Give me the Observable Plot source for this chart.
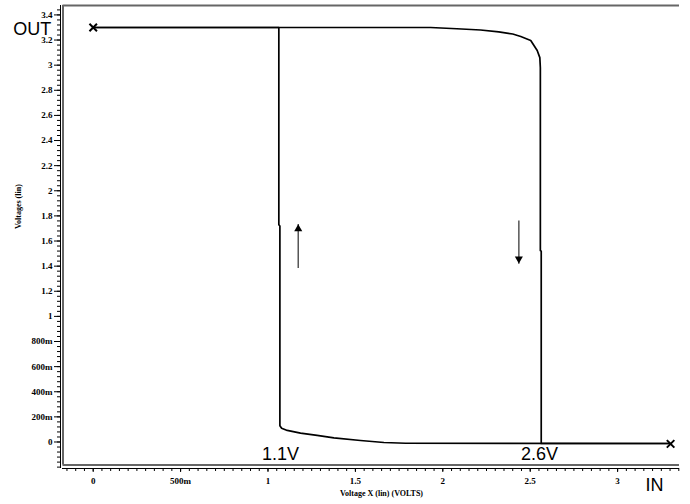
<!DOCTYPE html>
<html><head><meta charset="utf-8">
<script src="https://cdn.jsdelivr.net/npm/d3@7"></script>
<script src="https://cdn.jsdelivr.net/npm/@observablehq/plot@0.6"></script>
<style>body{margin:0;background:#fff;overflow:hidden}</style>
</head><body><div id="chart"></div>
<script>
// Forward sweep (IN 0 -> 3.3 V)
const forwardX = [0, 1.93, 2.08, 2.216, 2.32, 2.40, 2.446, 2.503, 2.54, 2.555, 2.558, 2.558, 2.563, 2.563, 3.30];
const forwardY = [3.30, 3.30, 3.29, 3.28, 3.265, 3.248, 3.228, 3.197, 3.117, 3.06, 2.98, 1.525, 1.52, -0.012, -0.012];
// Backward sweep (IN 3.3 -> 0 V)
const backwardX = [3.30, 1.787, 1.663, 1.529, 1.377, 1.281, 1.186, 1.11, 1.078, 1.068, 1.068, 1.062, 1.062, 0];
const backwardY = [-0.012, -0.010, -0.004, 0.012, 0.033, 0.052, 0.070, 0.092, 0.110, 0.130, 1.72, 1.73, 3.30, 3.30];
// End markers
const markerX = [0, 3.303];
const markerY = [3.30, -0.015];
// Direction arrows
const arrowX = [1.173, 2.435];
const arrowFrom = [1.385, 1.763];
const arrowTo = [1.736, 1.419];
const arrowDir = ["up", "down"];
// Annotations
const labelText = ["OUT", "1.1V", "2.6V", "IN"];
const labelX = [-0.349, 1.072, 2.553, 3.211];
const labelY = [3.29, -0.10, -0.10, -0.342];
// Ticks
const yTicks = [0, 0.2, 0.4, 0.6, 0.8, 1, 1.2, 1.4, 1.6, 1.8, 2, 2.2, 2.4, 2.6, 2.8, 3, 3.2, 3.4];
const yTickLabels = ["0", "200m", "400m", "600m", "800m", "1", "1.2", "1.4", "1.6", "1.8", "2", "2.2", "2.4", "2.6", "2.8", "3", "3.2", "3.4"];
const xTicks = [0, 0.5, 1, 1.5, 2, 2.5, 3];
const xTickLabels = ["0", "500m", "1", "1.5", "2", "2.5", "3"];
const yMinor = d3.range(-0.20, 3.46, 0.04);
const xMinor = d3.range(-0.15, 3.36, 0.05);

const xDomain = [-0.187, 3.354];
const yDomain = [-0.211, 3.475];

const curve = [
  ...forwardX.map((x, i) => ({x, y: forwardY[i], s: "fwd"})),
  ...backwardX.map((x, i) => ({x, y: backwardY[i], s: "bwd"}))
];
const markers = markerX.map((x, i) => ({x, y: markerY[i]}));
const arrows = arrowX.map((x, i) => ({x, y1: arrowFrom[i], y2: arrowTo[i], dir: arrowDir[i]}));
const labels = labelText.map((t, i) => ({t, x: labelX[i], y: labelY[i]}));

const frameStyle = {stroke: "#666", strokeWidth: 2};

const chart = Plot.plot({
  width: 690, height: 504,
  marginLeft: 60, marginRight: 11, marginTop: 5, marginBottom: 36,
  x: {domain: xDomain, label: null},
  y: {domain: yDomain, label: null},
  style: {fontFamily: "'Liberation Serif', 'Times New Roman', serif", background: "#fff", overflow: "visible"},
  marks: [
    // plot frame (left, top, bottom)
    Plot.ruleY([yDomain[1]], {...frameStyle, insetLeft: 2.5}),
    Plot.ruleX([xDomain[0]], {...frameStyle, dx: 2.5, insetBottom: 3.5}),
    Plot.ruleY([yDomain[0]], {...frameStyle, dy: -3.5, insetLeft: 2.5}),
    // axis lines
    Plot.ruleX([xDomain[0]], {stroke: "#000", strokeWidth: 1}),
    Plot.ruleY([yDomain[0]], {stroke: "#000", strokeWidth: 1, insetLeft: 2}),
    // y axis
    Plot.axisY(yMinor, {tickSize: 3, tickFormat: () => "", stroke: "#000"}),
    Plot.axisY(yTicks, {tickSize: 6, tickPadding: 2, stroke: "#000", fill: "#000",
      tickFormat: d => yTickLabels[yTicks.indexOf(d)], fontSize: 9, fontWeight: "bold"}),
    // x axis
    Plot.axisX(xMinor, {tickSize: 3, tickFormat: () => "", stroke: "#000"}),
    Plot.axisX(xTicks, {tickSize: 4, tickPadding: 5, stroke: "#000", fill: "#000",
      tickFormat: d => xTickLabels[xTicks.indexOf(d)], fontSize: 9, fontWeight: "bold"}),
    // axis titles
    Plot.text(["Voltages (lin)"], {frameAnchor: "left", dx: -42, dy: -8, rotate: -90,
      fontSize: 8, fontWeight: "bold", fill: "#000"}),
    Plot.text(["Voltage X (lin) (VOLTS)"], {frameAnchor: "bottom", dx: 11.5, dy: 27,
      fontSize: 8, fontWeight: "bold", fill: "#000"}),
    // hysteresis curve
    Plot.line(curve, {x: "x", y: "y", z: "s", stroke: "#000", strokeWidth: 1.7}),
    // end markers
    Plot.dot(markers, {x: "x", y: "y", symbol: "times", r: 3.5, stroke: "#000", strokeWidth: 2}),
    // arrows
    Plot.link(arrows, {x1: "x", x2: "x", y1: "y1", y2: "y2", stroke: "#555", strokeWidth: 1.5}),
    Plot.dot(arrows.filter(d => d.dir === "up"), {x: "x", y: "y2", dy: 5, symbol: "triangle", r: 3, fill: "#000", stroke: null}),
    Plot.dot(arrows.filter(d => d.dir === "down"), {x: "x", y: "y2", dy: -5, symbol: "triangle", rotate: 180, r: 3, fill: "#000", stroke: null}),
    // annotations
    Plot.text(labels, {x: "x", y: "y", text: "t", fontSize: 18, fill: "#000",
      fontFamily: "'Liberation Sans', Arial, sans-serif", lineAnchor: "middle"})
  ]
});
document.getElementById("chart").appendChild(chart);
</script>
</body></html>
